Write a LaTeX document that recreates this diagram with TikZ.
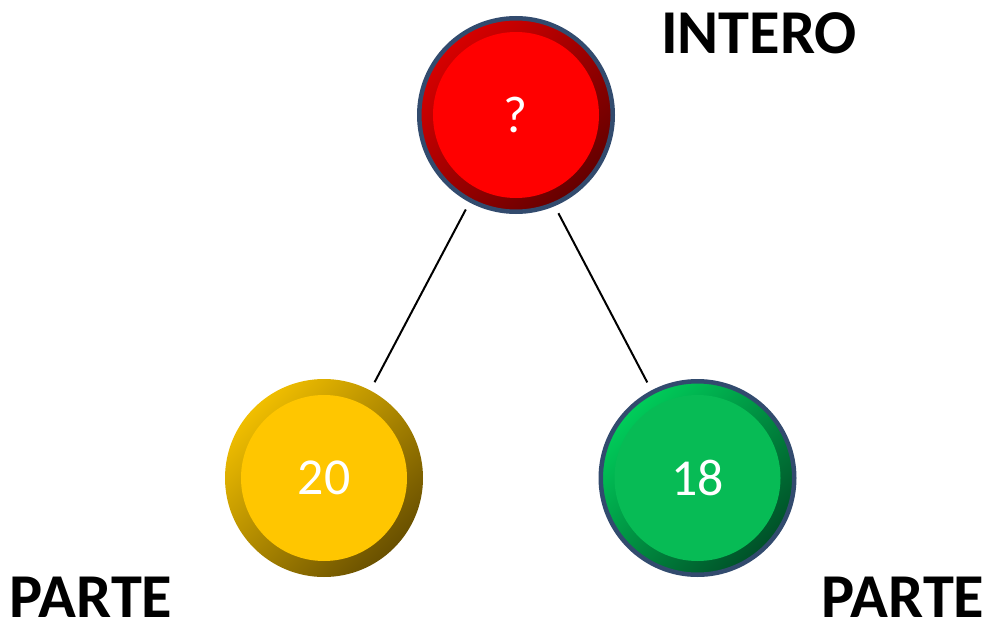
\documentclass[tikz,border=0pt]{standalone}
\usepackage{fontspec}
\setmainfont{Carlito}
\usetikzlibrary{positioning}

\definecolor{rimblue}{RGB}{50,75,110}
\definecolor{redin}{RGB}{255,0,0}
\definecolor{redlight}{RGB}{215,0,0}
\definecolor{reddark}{RGB}{100,0,0}
\definecolor{yellowin}{RGB}{255,198,0}
\definecolor{yellowlight}{RGB}{240,190,0}
\definecolor{yellowdark}{RGB}{105,80,0}
\definecolor{greenin}{RGB}{7,187,85}
\definecolor{greenlight}{RGB}{0,205,90}
\definecolor{greendark}{RGB}{0,80,40}

\begin{document}
\begin{tikzpicture}[
    ball/.style n args={3}{circle, inner sep=0pt, minimum size=3.96cm,
      top color=#1, bottom color=#2, shading angle=45,
      path picture={\fill[#3] (path picture bounding box.center) circle (1.66cm);},
      text=white, font=\fontsize{29.5}{30}\selectfont},
    rim/.style={draw=rimblue, line width=0.09cm, minimum size=3.87cm},
    label/.style={inner sep=0pt, font=\fontsize{35.5}{36}\selectfont\bfseries},
    link/.style={line width=0.04cm, shorten <=0.16cm, shorten >=0.18cm}
  ]

  \useasboundingbox (0,0) rectangle (19.8,-12.56);

  % cerchi
  \node[ball={redlight}{reddark}{redin}, rim] (intero) at (10.32,-2.30) {?};
  \node[ball={yellowlight}{yellowdark}{yellowin}] (parteA) at (6.48,-9.56) {20};
  \node[ball={greenlight}{greendark}{greenin}, rim] (parteB) at (13.95,-9.56) {18};

  \draw[link] (intero.242) -- (parteA);
  \draw[link] (intero.293) -- (parteB);

  % scritte
  \node[label] (tintero) at (15.18,-0.66) {INTERO};
  \node[label] (tparteA) at (1.82,-11.94) {PARTE};
  \node[label] (tparteB) at (18.06,-11.94) {PARTE};

\end{tikzpicture}
\end{document}
